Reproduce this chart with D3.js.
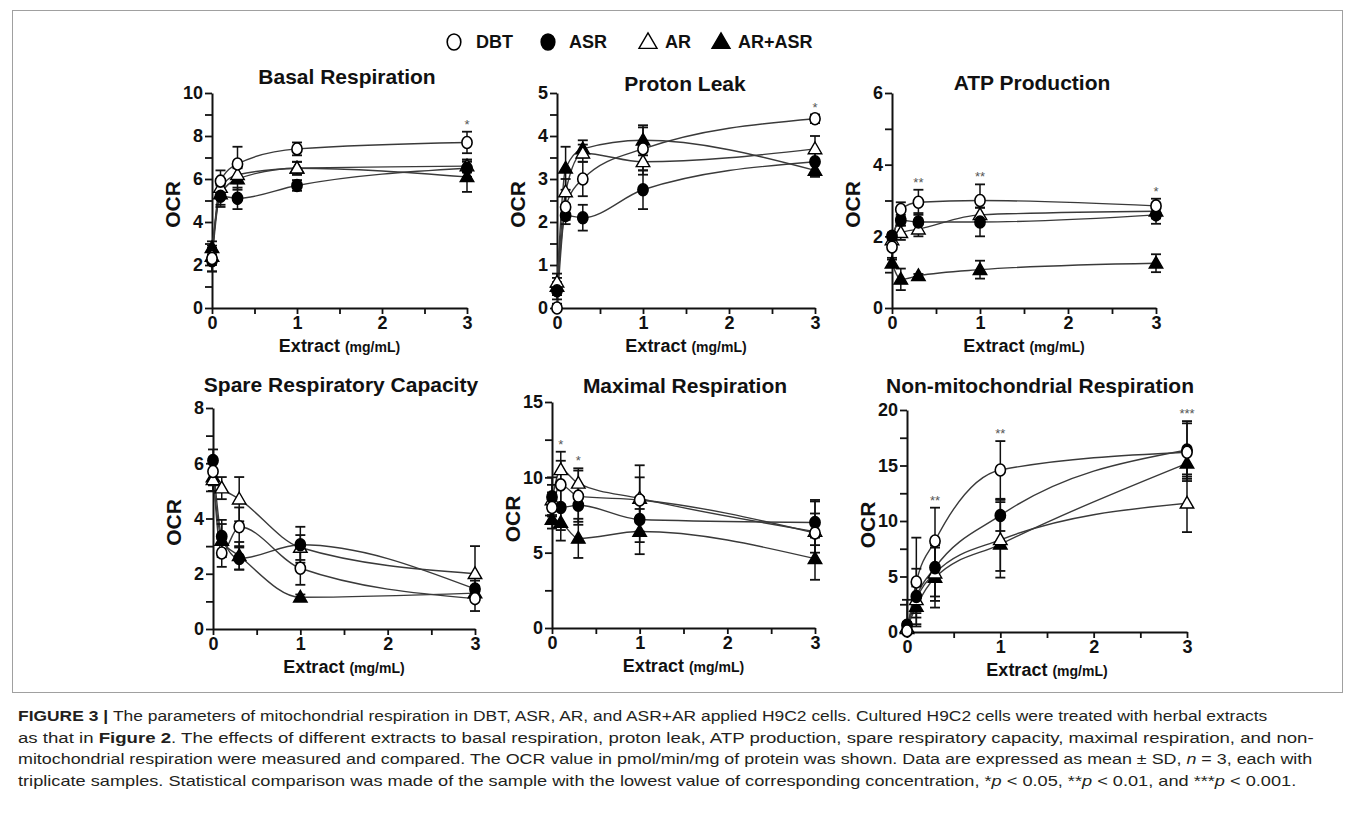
<!DOCTYPE html>
<html>
<head>
<meta charset="utf-8">
<script src="https://cdn.jsdelivr.net/npm/d3@7"></script>
<style>
  body { margin: 0; background: #fff; }
  svg text { font-family: "Liberation Sans", Arial, sans-serif; }
</style>
</head>
<body>
<svg id="fig" width="1355" height="816"></svg>
<script>
// Doses (mg/mL) and series, rows of every table follow seriesNames
const doses = [0, 0.1, 0.3, 1, 3];
const seriesNames = ["DBT", "ASR", "AR", "AR+ASR"];

const basalMean = [
  [2.3, 5.9, 6.7, 7.4, 7.7],
  [2.2, 5.2, 5.1, 5.7, 6.5],
  [2.4, 5.6, 6.2, 6.5, 6.6],
  [2.8, 5.3, 6.0, 6.5, 6.1]];
const basalSD = [
  [0.6, 0.5, 0.8, 0.3, 0.5],
  [0.5, 0.5, 0.5, 0.25, 0.4],
  [0.4, 0.4, 0.4, 0.3, 0.3],
  [0.3, 0.5, 0.5, 0.3, 0.7]];
const basalStars = [[3, "*"]];

const leakMean = [
  [0.0, 2.35, 3.0, 3.7, 4.4],
  [0.4, 2.15, 2.1, 2.75, 3.4],
  [0.6, 2.7, 3.6, 3.4, 3.7],
  [0.5, 3.25, 3.7, 3.9, 3.2]];
const leakSD = [
  [0.1, 0.3, 0.4, 0.5, 0.1],
  [0.2, 0.2, 0.3, 0.45, 0.25],
  [0.2, 0.3, 0.2, 0.3, 0.3],
  [0.2, 0.5, 0.2, 0.35, 0.15]];
const leakStars = [[3, "*"]];

const atpMean = [
  [1.7, 2.75, 2.95, 3.0, 2.85],
  [2.0, 2.45, 2.4, 2.4, 2.6],
  [1.9, 2.1, 2.2, 2.6, 2.7],
  [1.25, 0.8, 0.9, 1.07, 1.25]];
const atpSD = [
  [0.3, 0.2, 0.35, 0.45, 0.2],
  [0.1, 0.15, 0.25, 0.4, 0.25],
  [0.2, 0.2, 0.2, 0.2, 0.2],
  [0.1, 0.3, 0.05, 0.25, 0.25]];
const atpStars = [[0.3, "**"], [1, "**"], [3, "*"]];

const spareMean = [
  [5.7, 2.75, 3.7, 2.2, 1.1],
  [6.1, 3.35, 2.55, 3.05, 1.45],
  [5.4, 5.1, 4.7, 2.95, 2.0],
  [5.5, 3.2, 2.65, 1.15, 1.3]];
const spareSD = [
  [0.5, 0.5, 0.7, 0.6, 0.45],
  [0.4, 0.6, 0.4, 0.65, 0.3],
  [0.4, 0.4, 0.8, 0.45, 1.0],
  [0.5, 0.6, 0.5, 0.1, 0.2]];
const spareStars = [];

const maxMean = [
  [8.0, 9.5, 8.75, 8.5, 6.3],
  [8.7, 8.0, 8.15, 7.2, 7.0],
  [8.5, 10.5, 9.6, 8.6, 6.4],
  [7.2, 7.0, 5.95, 6.4, 4.6]];
const maxSD = [
  [1.0, 1.6, 1.7, 1.5, 1.3],
  [1.3, 1.5, 1.3, 1.5, 1.5],
  [1.0, 1.2, 1.0, 2.2, 2.0],
  [0.6, 1.2, 1.3, 1.5, 1.4]];
const maxStars = [[0.1, "*"], [0.3, "*"]];

const nonMitoMean = [
  [0.1, 4.5, 8.2, 14.6, 16.2],
  [0.6, 3.2, 5.8, 10.5, 16.4],
  [0.3, 2.9, 5.3, 8.3, 11.6],
  [0.4, 2.3, 4.9, 7.9, 15.2]];
const nonMitoSD = [
  [0.3, 4.0, 3.0, 2.6, 2.6],
  [2.3, 2.5, 2.6, 1.4, 2.6],
  [0.5, 1.2, 2.5, 3.4, 2.6],
  [0.5, 1.0, 2.7, 2.4, 1.2]];
const nonMitoStars = [[0.3, "**"], [1, "**"], [3, "***"]];

// panel layout
const panels = [
  {title: "Basal Respiration", mean: basalMean, sd: basalSD, stars: basalStars,
   yMax: 10, yMinor: 1, yLabel: 2, left: 212, right: 467, top: 93, bottom: 308, titleX: 347, titleY: 84},
  {title: "Proton Leak", mean: leakMean, sd: leakSD, stars: leakStars,
   yMax: 5, yMinor: 0.5, yLabel: 1, left: 557, right: 815, top: 93, bottom: 308, titleX: 685, titleY: 91},
  {title: "ATP Production", mean: atpMean, sd: atpSD, stars: atpStars,
   yMax: 6, yMinor: 1, yLabel: 2, left: 892, right: 1156, top: 93, bottom: 308, titleX: 1032, titleY: 90},
  {title: "Spare Respiratory Capacity", mean: spareMean, sd: spareSD, stars: spareStars,
   yMax: 8, yMinor: 1, yLabel: 2, left: 213, right: 475, top: 408, bottom: 629, titleX: 341, titleY: 392},
  {title: "Maximal Respiration", mean: maxMean, sd: maxSD, stars: maxStars,
   yMax: 15, yMinor: 2.5, yLabel: 5, left: 552, right: 815, top: 402, bottom: 628, titleX: 685, titleY: 393},
  {title: "Non-mitochondrial Respiration", mean: nonMitoMean, sd: nonMitoSD, stars: nonMitoStars,
   yMax: 20, yMinor: 2.5, yLabel: 5, left: 907, right: 1187, top: 410, bottom: 632, titleX: 1040, titleY: 393}
];

const svg = d3.select("#fig");

// figure frame
svg.append("rect")
  .attr("x", 12.5).attr("y", 10.5)
  .attr("width", 1330).attr("height", 682)
  .attr("fill", "none").attr("stroke", "#a0a0a0");

// marker drawing: open/filled circle, open/filled triangle
function drawMarker(sel, i, size) {
  const filled = (i === 1 || i === 3);
  if (i < 2) {
    sel.append("ellipse").attr("rx", size * 0.85).attr("ry", size)
      .attr("fill", filled ? "#000" : "#fff")
      .attr("stroke", "#000").attr("stroke-width", 1.6);
  } else {
    sel.append("path")
      .attr("d", d3.symbol(d3.symbolTriangle, size * size * 2.2)())
      .attr("transform", `translate(0,${size * 0.15})`)
      .attr("fill", filled ? "#000" : "#fff")
      .attr("stroke", "#000").attr("stroke-width", 1.4);
  }
}

// legend
const legendX = [454, 548, 648, 721];
const legendTextX = [476, 569, 665, 738];
seriesNames.forEach((name, i) => {
  const g = svg.append("g").attr("transform", `translate(${legendX[i]},42)`);
  drawMarker(g, i, 8);
  svg.append("text")
    .attr("x", legendTextX[i]).attr("y", 48)
    .attr("font-size", 18).attr("font-weight", "bold").attr("fill", "#111")
    .text(name);
});

panels.forEach(p => {
  const x = d3.scaleLinear().domain([0, 3]).range([p.left, p.right]);
  const y = d3.scaleLinear().domain([0, p.yMax]).range([p.bottom, p.top]);
  const g = svg.append("g");

  // axes
  const xAxis = d3.axisBottom(x)
    .tickValues(d3.range(0, 3.01, 0.5))
    .tickFormat(d => Number.isInteger(d) ? d : "")
    .tickSize(6).tickSizeOuter(0).tickPadding(2);
  const yAxis = d3.axisLeft(y)
    .tickValues(d3.range(0, p.yMax + 1e-9, p.yMinor))
    .tickFormat(d => Math.abs(d / p.yLabel - Math.round(d / p.yLabel)) < 1e-6 ? d : "")
    .tickSize(7).tickSizeOuter(0).tickPadding(2);

  const gx = g.append("g").attr("transform", `translate(0,${p.bottom})`).call(xAxis);
  const gy = g.append("g").attr("transform", `translate(${p.left},0)`).call(yAxis);
  [gx, gy].forEach(a => {
    a.select(".domain").attr("stroke", "#111").attr("stroke-width", 2);
    a.selectAll(".tick line").attr("stroke", "#111").attr("stroke-width", 1.8);
    a.selectAll(".tick text")
      .attr("font-size", 18).attr("font-weight", "bold").attr("fill", "#111")
      .attr("font-family", "Liberation Sans, Arial, sans-serif");
  });

  // title
  g.append("text")
    .attr("x", p.titleX).attr("y", p.titleY)
    .attr("text-anchor", "middle")
    .attr("font-size", 21).attr("font-weight", "bold").attr("fill", "#111")
    .text(p.title);

  // y label
  g.append("text")
    .attr("transform", `translate(${p.left - 32},${(p.top + p.bottom) / 2 + 4}) rotate(-90)`)
    .attr("text-anchor", "middle")
    .attr("font-size", 21).attr("font-weight", "bold").attr("fill", "#111")
    .text("OCR");

  // x label
  const xl = g.append("text")
    .attr("x", (p.left + p.right) / 2).attr("y", p.bottom + 44)
    .attr("text-anchor", "middle")
    .attr("font-weight", "bold").attr("fill", "#111");
  xl.append("tspan").attr("font-size", 18).text("Extract ");
  xl.append("tspan").attr("font-size", 14).text("(mg/mL)");

  // smooth curves through the means
  const line = d3.line()
    .x((d, j) => x(doses[j]))
    .y(d => y(d))
    .curve(d3.curveMonotoneX);
  g.selectAll(".curve")
    .data(p.mean)
    .join("path")
    .attr("class", "curve")
    .attr("d", line)
    .attr("fill", "none")
    .attr("stroke", "#3a3a3a")
    .attr("stroke-width", 1.4);

  // error bars
  const order = [3, 2, 1, 0];
  order.forEach(i => {
    p.mean[i].forEach((m, j) => {
      const s = p.sd[i][j];
      const cx = x(doses[j]);
      const y0 = y(Math.max(0, m - s)), y1 = y(m + s);
      g.append("line").attr("x1", cx).attr("x2", cx).attr("y1", y0).attr("y2", y1)
        .attr("stroke", "#111").attr("stroke-width", 1.5);
      [y0, y1].forEach(yy => {
        g.append("line").attr("x1", cx - 5).attr("x2", cx + 5).attr("y1", yy).attr("y2", yy)
          .attr("stroke", "#111").attr("stroke-width", 1.8);
      });
    });
  });

  // markers
  order.forEach(i => {
    p.mean[i].forEach((m, j) => {
      const mg = g.append("g").attr("transform", `translate(${x(doses[j])},${y(m)})`);
      drawMarker(mg, i, 6);
    });
  });

  // significance stars above the highest error bar
  p.stars.forEach(([xv, label]) => {
    const j = doses.indexOf(xv);
    const top = d3.max(p.mean, (row, i) => row[j] + p.sd[i][j]);
    g.append("text")
      .attr("x", x(xv)).attr("y", y(top) - 3)
      .attr("text-anchor", "middle")
      .attr("font-size", 13).attr("fill", "#555")
      .text(label);
  });
});

// caption
const captionLines = [
  {y: 721, w: 1250, parts: [["FIGURE 3 | ", "b"], ["The parameters of mitochondrial respiration in DBT, ASR, AR, and ASR+AR applied H9C2 cells. Cultured H9C2 cells were treated with herbal extracts", ""]]},
  {y: 743, w: 1297, parts: [["as that in ", ""], ["Figure 2", "b"], [". The effects of different extracts to basal respiration, proton leak, ATP production, spare respiratory capacity, maximal respiration, and non-", ""]]},
  {y: 764, w: 1295, parts: [["mitochondrial respiration were measured and compared. The OCR value in pmol/min/mg of protein was shown. Data are expressed as mean ± SD, ", ""], ["n", "i"], [" = 3, each with", ""]]},
  {y: 786, w: 1279, parts: [["triplicate samples. Statistical comparison was made of the sample with the lowest value of corresponding concentration, *", ""], ["p", "i"], [" < 0.05, **", ""], ["p", "i"], [" < 0.01, and ***", ""], ["p", "i"], [" < 0.001.", ""]]}
];
captionLines.forEach(l => {
  const t = svg.append("text")
    .attr("x", 0).attr("y", 0)
    .attr("font-size", 15).attr("fill", "#231f20")
    .attr("xml:space", "preserve");
  l.parts.forEach(([txt, st]) => {
    t.append("tspan")
      .attr("font-weight", st === "b" ? "bold" : null)
      .attr("font-style", st === "i" ? "italic" : null)
      .text(txt);
  });
  const w = t.node().getComputedTextLength();
  t.attr("transform", `translate(18,${l.y}) scale(${l.w / w},1)`);
});
</script>
</body>
</html>
